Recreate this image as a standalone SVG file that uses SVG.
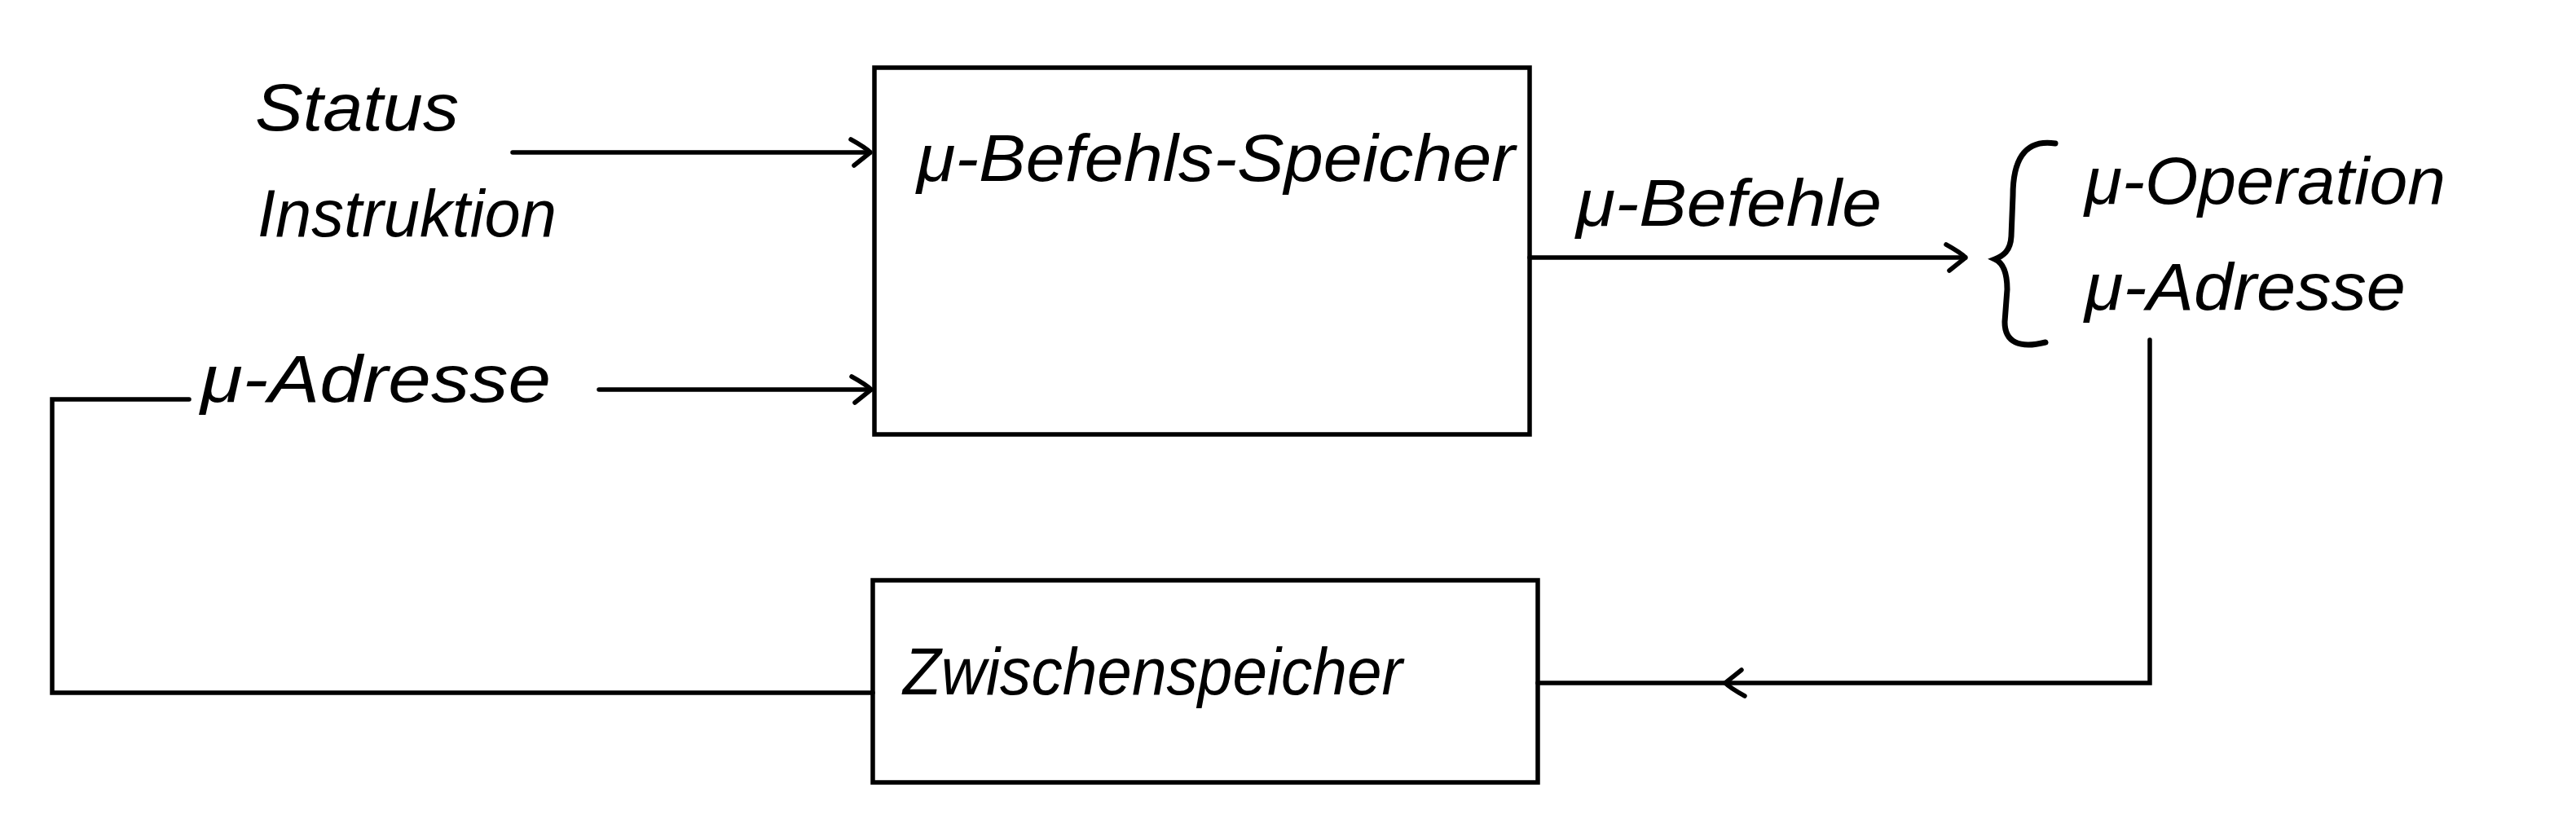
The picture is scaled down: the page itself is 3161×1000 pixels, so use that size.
<svg xmlns="http://www.w3.org/2000/svg" width="3161" height="1000" viewBox="0 0 3161 1000">
<defs>
<style>
.box{fill:none;stroke:#000;stroke-width:5.5}
.ln{fill:none;stroke:#000;stroke-width:5.5;stroke-linecap:round;stroke-linejoin:miter}
.br{fill:none;stroke:#000;stroke-width:7;stroke-linecap:round}
.t{font-family:"Liberation Sans","DejaVu Sans",sans-serif;font-size:82px;fill:#000;font-style:italic}
</style>
<marker id="arr" viewBox="0 0 30 40" refX="28" refY="20" markerWidth="30" markerHeight="40" markerUnits="userSpaceOnUse" orient="auto">
<path d="M4 4 Q22 14 28 20 Q18 28 8 36" fill="none" stroke="#000" stroke-width="5.5" stroke-linecap="round"/>
</marker>
</defs>
<rect width="3161" height="1000" fill="#fff"/>
<g id="labels-in">
<text class="t" x="313" y="160" textLength="250" lengthAdjust="spacingAndGlyphs">Status</text>
<text class="t" x="316" y="290" textLength="367" lengthAdjust="spacingAndGlyphs">Instruktion</text>
</g>
<g id="node-befehlsspeicher">
<rect class="box" x="1073" y="83" width="804" height="450"/>
<text class="t" x="1125" y="222" textLength="734" lengthAdjust="spacingAndGlyphs">μ-Befehls-Speicher</text>
</g>
<g id="node-zwischenspeicher">
<rect class="box" x="1071" y="712" width="816" height="248"/>
<text class="t" x="1108" y="852" textLength="613" lengthAdjust="spacingAndGlyphs">Zwischenspeicher</text>
</g>
<g id="node-output">
<path class="br" d="M2522 176 C2482 170 2470 200 2470 240 L2468 290 C2467 308 2458 314 2448 318 C2459 323 2463 336 2463 355 L2460 395 C2460 420 2478 428 2510 420"/>
<text class="t" x="2558" y="250" textLength="443" lengthAdjust="spacingAndGlyphs">μ-Operation</text>
<text class="t" x="2558" y="380" textLength="394" lengthAdjust="spacingAndGlyphs">μ-Adresse</text>
</g>
<g id="connectors">
<path class="ln" d="M629 187 H1068" marker-end="url(#arr)"/>
<path class="ln" d="M735 478 H1069" marker-end="url(#arr)"/>
<path class="ln" d="M1877 316 H2412" marker-end="url(#arr)"/>
<text class="t" x="1934" y="277" textLength="375" lengthAdjust="spacingAndGlyphs">μ-Befehle</text>
<path class="ln" d="M2638 417 V838 H2117" marker-end="url(#arr)"/>
<path class="ln" d="M2117 838 H1887"/>
<path class="ln" d="M1071 850 H64 V490 H232"/>
<text class="t" x="246" y="493" textLength="430" lengthAdjust="spacingAndGlyphs">μ-Adresse</text>
</g>
</svg>
